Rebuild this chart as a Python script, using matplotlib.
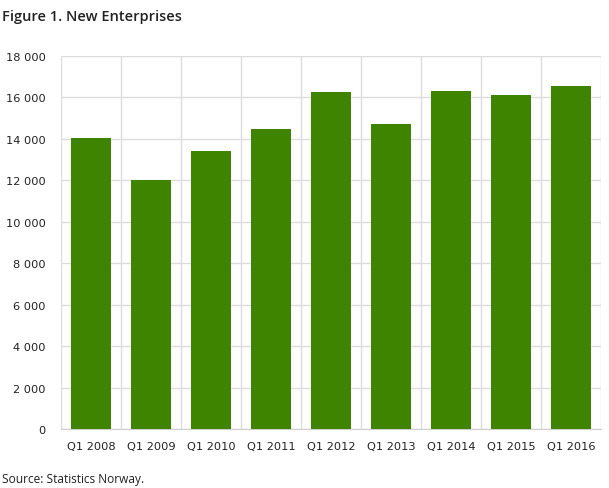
import matplotlib
matplotlib.use("Agg")
import matplotlib.pyplot as plt
from matplotlib.ticker import FuncFormatter, MultipleLocator
import numpy as np

categories = ["Q1 2008", "Q1 2009", "Q1 2010", "Q1 2011", "Q1 2012",
              "Q1 2013", "Q1 2014", "Q1 2015", "Q1 2016"]
values = [14050, 12020, 13420, 14480, 16270, 14720, 16310, 16140, 16550]

plt.rcParams['font.family'] = ['DejaVu Sans']

fig = plt.figure(figsize=(6.09, 4.89), dpi=100)
ax = fig.add_axes([61/609, 59/489, 540/609, 373/489])

x = np.arange(len(categories))
ax.bar(x, values, width=0.667, color="#3f8400", zorder=3)

ax.set_xlim(-0.5, len(categories) - 0.5)
ax.set_ylim(0, 18000)
ax.yaxis.set_major_locator(MultipleLocator(2000))
ax.yaxis.set_major_formatter(FuncFormatter(lambda v, p: f"{int(v):,}".replace(",", " ")))
ax.grid(axis="y", color="#dcdcdc", linewidth=1, zorder=0)
for b in np.arange(-0.5, len(categories), 1.0):
    ax.axvline(b, color="#dcdcdc", linewidth=1, zorder=0)

ax.set_xticks(x)
ax.set_xticklabels(categories)
for s in ["top", "right", "left"]:
    ax.spines[s].set_visible(False)
ax.spines["bottom"].set_color("#cccccc")
ax.tick_params(axis="both", length=0, labelsize=8.2, labelcolor="#222222")
ax.tick_params(axis="y", pad=11)
ax.tick_params(axis="x", pad=8.5)

fig.text(2/609, 1 - 17/489, "Figure 1. New Enterprises", fontsize=10.5,
         fontweight="semibold", family=["Open Sans", "DejaVu Sans"],
         va="center", ha="left", color="#222222")
fig.text(2/609, 1 - 480/489, "Source: Statistics Norway.", fontsize=8.6,
         family=["Open Sans", "DejaVu Sans"],
         va="center", ha="left", color="#222222")

fig.savefig("out.png", dpi=100)
